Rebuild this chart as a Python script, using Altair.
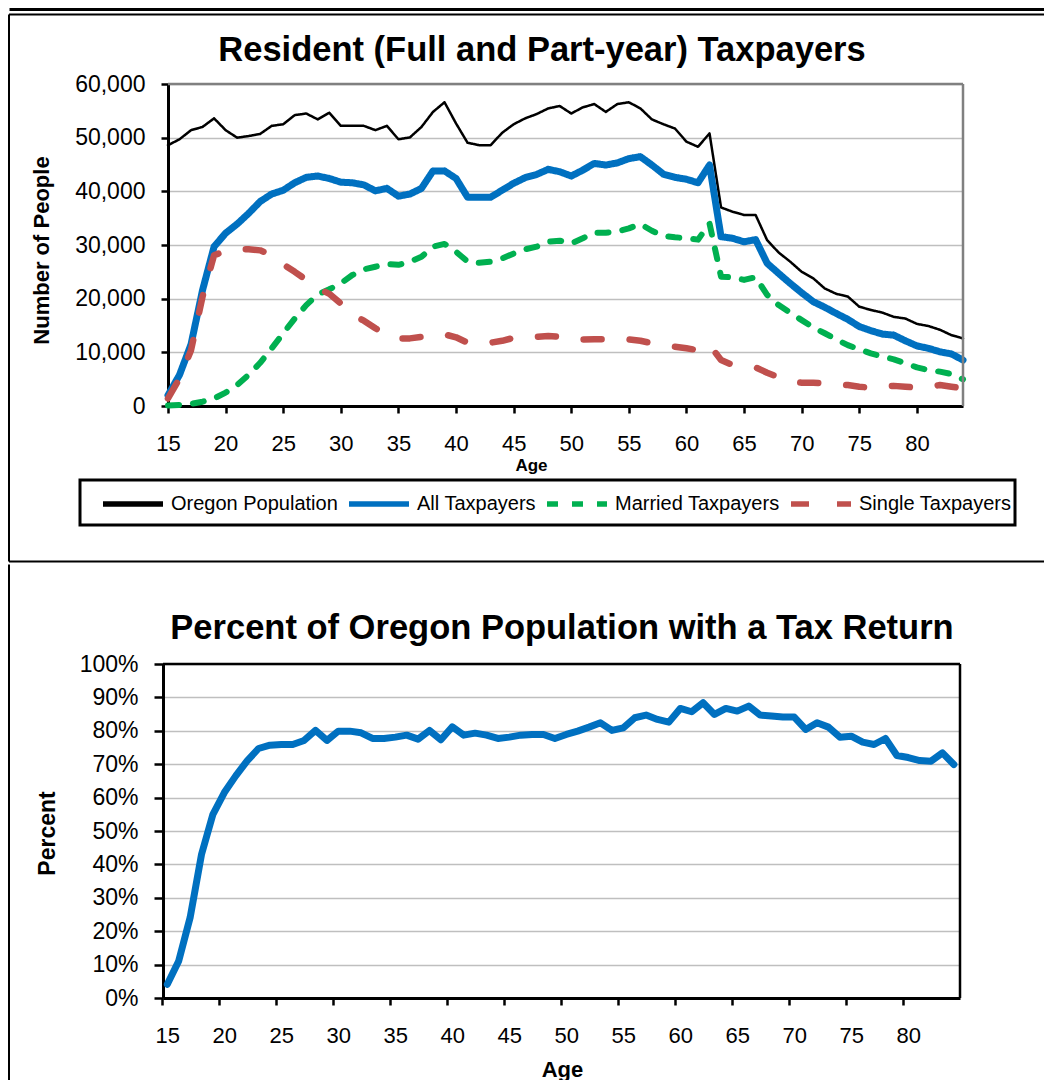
import altair as alt
import pandas as pd

# ---------------- data ----------------
ages = list(range(15, 85))

oregon_population = [
    48600, 49700, 51400, 52000, 53600, 51400, 50000, 50300, 50700, 52200,
    52500, 54200, 54500, 53400, 54650, 52200, 52200, 52200, 51400, 52200,
    49700, 50050, 52000, 54800, 56600, 52650, 49050, 48600, 48600, 50900,
    52500, 53600, 54400, 55450, 55900, 54500, 55650, 56260, 54800, 56260,
    56600, 55450, 53400, 52500, 51700, 49250, 48300, 50800, 37000, 36200,
    35600, 35600, 30900, 28600, 26900, 25000, 23800, 21900, 20900, 20400,
    18500, 17900, 17400, 16600, 16300, 15300, 14900, 14200, 13200, 12600,
]
all_taxpayers = [
    2000, 5800, 11500, 21600, 29700, 32200, 33900, 35900, 38100, 39500,
    40200, 41600, 42600, 42850, 42400, 41700, 41600, 41200, 40100, 40550,
    39100, 39500, 40550, 43800, 43800, 42400, 38900, 38900, 38900, 40200,
    41500, 42550, 43150, 44100, 43650, 42850, 43950, 45200, 44900, 45300,
    46100, 46450, 44900, 43200, 42600, 42250, 41600, 44900, 31550, 31250,
    30600, 31000, 26600, 24700, 22850, 21100, 19450, 18400, 17250, 16150,
    14800, 14050, 13400, 13200, 12150, 11200, 10750, 10100, 9700, 8570,
]
married_taxpayers = [
    100, 200, 400, 800, 1400, 2500, 3900, 5800, 8050, 10750,
    13550, 16300, 18800, 20800, 21750, 22850, 24400, 25450, 25950, 26450,
    26300, 26900, 27800, 29700, 30200, 28750, 26900, 26700, 26900, 27500,
    28400, 29200, 29700, 30600, 30800, 30300, 31250, 32300, 32300, 32500,
    33100, 33900, 32650, 31700, 31450, 31250, 31000, 34000, 24100, 24000,
    23500, 24000, 20700, 18800, 17400, 16000, 14650, 13550, 12400, 11350,
    10550, 9800, 9200, 8700, 7950, 7200, 6700, 6400, 5950, 4970,
]
single_taxpayers = [
    1400, 5150, 10400, 20400, 28100, 28900, 29200, 29200, 29000, 28100,
    26400, 25000, 23500, 21900, 20900, 19100, 16950, 15900, 14500, 13200,
    12600, 12600, 12900, 12900, 13350, 12800, 11800, 11700, 11800, 12150,
    12700, 12600, 12900, 13050, 12900, 12400, 12400, 12450, 12450, 12500,
    12400, 12150, 11700, 11350, 11050, 10750, 10400, 11350, 8570, 7650,
    7330, 7200, 6200, 5350, 4530, 4350, 4350, 4220, 4040, 3900,
    3600, 3400, 3600, 3750, 3600, 3400, 3600, 3900, 3600, 3300,
]
percent_with_return = [
    4.1, 11.1, 24.1, 43.0, 55.0, 61.5, 66.5, 71.0, 74.7, 75.7,
    75.9, 75.9, 77.1, 80.1, 77.1, 79.9, 79.9, 79.4, 77.7, 77.7,
    78.1, 78.7, 77.5, 80.1, 77.3, 81.2, 78.7, 79.3, 78.7, 77.7,
    78.1, 78.7, 78.9, 78.9, 77.7, 78.9, 79.9, 81.1, 82.4, 80.1,
    80.9, 83.9, 84.7, 83.4, 82.6, 86.7, 85.7, 88.4, 84.9, 86.7,
    85.9, 87.4, 84.7, 84.4, 84.1, 84.1, 80.4, 82.4, 81.1, 78.1,
    78.4, 76.6, 75.9, 77.7, 72.6, 72.0, 71.1, 70.9, 73.4, 69.9,
]

series_names = ["Oregon Population", "All Taxpayers", "Married Taxpayers", "Single Taxpayers"]
series_values = [oregon_population, all_taxpayers, married_taxpayers, single_taxpayers]
people_ticks = [0, 10000, 20000, 30000, 40000, 50000, 60000]
percent_ticks = [0, 10, 20, 30, 40, 50, 60, 70, 80, 90, 100]
age_ticks = [15, 20, 25, 30, 35, 40, 45, 50, 55, 60, 65, 70, 75, 80]

# ---------------- styles ----------------
series_colors = ["#000000", "#0070C0", "#00B050", "#C0504D"]
series_widths = [2.5, 7, 6, 6.5]
series_dashes = [[1, 0], [1, 0], [11, 14], [18, 28]]
FONT = "Liberation Sans"

rows = []
for name, vals in zip(series_names, series_values):
    for a, v in zip(ages, vals):
        rows.append({"Age": a, "People": v, "Series": name})
df = pd.DataFrame(rows)
pct_df = pd.DataFrame({"Age": ages, "Percent": percent_with_return})
one = pd.DataFrame({"k": [0]})

TW, TH = 795, 322   # top plot
BW, BH = 792, 334   # bottom plot (x range starts 5px left of origin)


def hrule(x1, x2, y, color="black", w=2):
    return alt.Chart(one).mark_rule(color=color, strokeWidth=w).encode(
        x=alt.value(x1), x2=alt.value(x2), y=alt.value(y))


def vrule(x, y1, y2, color="black", w=2):
    return alt.Chart(one).mark_rule(color=color, strokeWidth=w).encode(
        x=alt.value(x), y=alt.value(y1), y2=alt.value(y2))


def label(txt, x, y, size, weight="bold"):
    return alt.Chart(one).mark_text(
        text=txt, font=FONT, fontSize=size, fontWeight=weight, color="black",
        align="center", baseline="middle").encode(x=alt.value(x), y=alt.value(y))


# ---------------- top chart ----------------
legend = alt.Legend(
    orient="none", legendX=-68, legendY=387, direction="horizontal", columns=4,
    title=None, symbolType="stroke", symbolSize=3600, symbolStrokeWidth=5.5,
    labelFont=FONT, labelFontSize=20, labelColor="black", labelOffset=5,
    columnPadding=0, padding=0, labelLimit=400,
)
color_enc = alt.Color("Series:N", scale=alt.Scale(domain=series_names, range=series_colors), legend=legend)
dash_enc = alt.StrokeDash("Series:N", scale=alt.Scale(domain=series_names, range=series_dashes), legend=legend)

x_top = alt.X("Age:Q", scale=alt.Scale(domain=[15, 84], nice=False, zero=False),
              axis=alt.Axis(values=age_ticks, title="Age", titleX=363, titleY=59,
                            titleFontSize=17, titleBaseline="middle", grid=False))
y_top = alt.Y("People:Q", scale=alt.Scale(domain=[0, 60000], nice=False),
              axis=alt.Axis(values=people_ticks, format=",.0f", title="Number of People",
                            titleX=-127, titleY=166, titleAngle=270, titleFontSize=22,
                            titleBaseline="middle", labelFontSize=23, grid=True))

line_layers = []
for name, w in zip(series_names, series_widths):
    line_layers.append(
        alt.Chart(df).transform_filter(alt.datum.Series == name)
        .mark_line(strokeWidth=w, strokeCap="round", strokeJoin="round")
        .encode(x=x_top, y=y_top, color=color_enc, strokeDash=dash_enc)
    )

legend_box = alt.Chart(one).mark_rect(fillOpacity=0, stroke="black", strokeWidth=3).encode(
    x=alt.value(-88), x2=alt.value(847), y=alt.value(396), y2=alt.value(441))

top = alt.layer(
    hrule(-158.5, 876, -74.5, w=3),
    hrule(-159, 876, -69.5, w=2),
    vrule(-159, -69.5, 477.5, w=2),
    hrule(-159, 876, 477.5, w=2),
    *line_layers,
    hrule(0, TW, 0, color="#808080", w=2.5),
    vrule(TW, 0, TH, color="#808080", w=2.5),
    label("Resident (Full and Part-year) Taxpayers", 374, -33, 34.5),
    legend_box,
).properties(width=TW, height=TH).resolve_scale(color="shared", strokeDash="shared")

# ---------------- bottom chart ----------------
x_bot = alt.X("Age:Q", scale=alt.Scale(domain=[14.62, 84.54], nice=False, zero=False, range=[-5, BW]),
              axis=alt.Axis(values=age_ticks, tickOffset=-5.7, labelOffset=5.7,
                            title="Age", titleX=394, titleY=71, titleFontSize=22,
                            titleBaseline="middle", grid=False))
y_bot = alt.Y("Percent:Q", scale=alt.Scale(domain=[0, 100], nice=False),
              axis=alt.Axis(values=percent_ticks, labelExpr="datum.value + '%'", offset=5,
                            tickSize=9, title="Percent", titleX=-116, titleY=169, titleAngle=270,
                            titleFontSize=23, titleBaseline="middle", labelFontSize=23,
                            grid=True))

pct_line = alt.Chart(pct_df).mark_line(
    color="#0070C0", strokeWidth=7, strokeCap="round", strokeJoin="round"
).encode(x=x_bot, y=y_bot)

bottom = alt.layer(
    vrule(-159, -99.5, 417, w=2),
    pct_line,
    hrule(-5, BW, 0, w=2.5),
    vrule(BW, 0, BH, w=2.5),
    label("Percent of Oregon Population with a Tax Return", 394, -35, 34.5),
).properties(width=BW, height=BH)

chart = alt.vconcat(top, bottom, spacing=0).resolve_scale(
    color="independent", strokeDash="independent"
).resolve_legend(color="independent", strokeDash="independent").properties(
    padding=0
).configure_view(strokeWidth=0).configure_axis(
    labelFont=FONT, titleFont=FONT, labelColor="black", titleColor="black",
    titleFontWeight="bold", labelFontSize=22, domainColor="black", domainWidth=3,
    tickColor="black", tickWidth=2.5, tickSize=7, labelPadding=16,
    gridColor="#BFBFBF", gridWidth=1.5, labelFlush=False, labelOverlap=False,
).configure_axisX(labelPadding=20)

chart.save("out.html", embed_options={"renderer": "svg", "actions": False})
